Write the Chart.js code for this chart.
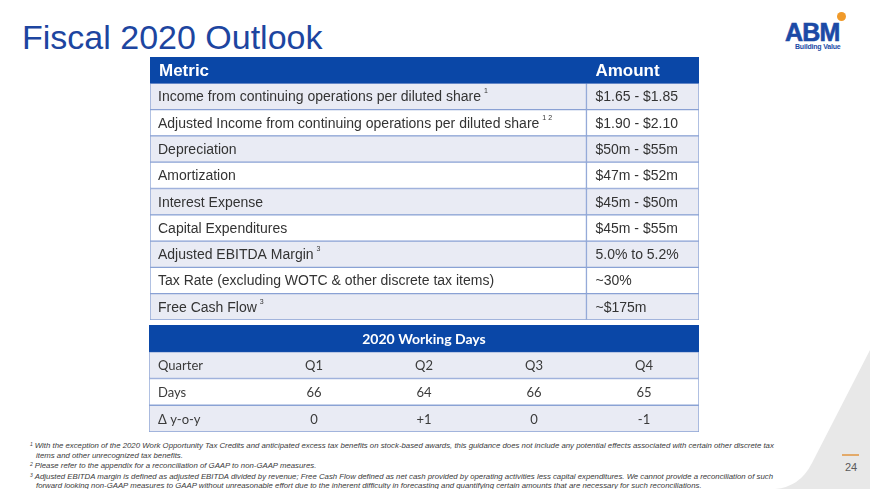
<!DOCTYPE html>
<html>
<head>
<meta charset="utf-8">
<script src="https://cdn.jsdelivr.net/npm/chart.js@4.4.1/dist/chart.umd.min.js"></script>
<style>
  html, body { margin: 0; padding: 0; background: #fff; }
  body { width: 870px; height: 489px; position: relative; overflow: hidden; font-family: "Liberation Sans", Arial, sans-serif; }
  .abs { position: absolute; white-space: nowrap; }
  #title { left: 22px; top: 20px; font-size: 34px; line-height: 34px; color: #1d45a0; }
  #logo { left: 785px; top: 20px; font-size: 25px; line-height: 24px; font-weight: bold; color: #1b4aa6; letter-spacing: -0.8px; -webkit-text-stroke: 0.6px #1b4aa6; }
  #logoDot { left: 837px; top: 12px; width: 9px; height: 9px; border-radius: 50%; background: #f09a2a; }
  #tag { left: 795px; top: 43px; font-size: 7px; line-height: 8px; color: #1b4aa6; font-weight: bold; letter-spacing: -0.2px; }
  #notes { left: 30px; top: 440px; font-size: 7.8px; line-height: 9.5px; font-style: italic; color: #3a3a3a; }
  #notes sup { font-size: 5px; vertical-align: 2px; margin-right: 2px; }
  #notes .ind { padding-left: 6px; }
  #pg { left: 845px; top: 461px; font-size: 11px; line-height: 12px; color: #5a5a5a; }
  #pgLine { left: 842px; top: 454px; width: 17px; height: 2px; background: #e3aa6a; }
  #t1 { left: 150px; top: 57px; width: 549px; height: 263px; }
  #t2 { left: 149px; top: 325px; width: 550px; height: 107px; }
</style>
</head>
<body>
<svg class="abs" style="left:0;top:0" width="870" height="489">
  <path d="M870 350 L812 463 Q800 487 775 489 L870 489 Z" fill="#e8e8e8"/>
</svg>
<div class="abs" id="title">Fiscal 2020 Outlook</div>
<div class="abs" id="logoDot"></div>
<div class="abs" id="logo">ABM</div>
<div class="abs" id="tag">Building Value</div>
<div class="abs" id="t1"><canvas id="outlook"></canvas></div>
<div class="abs" id="t2"><canvas id="days"></canvas></div>
<div class="abs" id="notes">
  <div><sup>1</sup>With the exception of the 2020 Work Opportunity Tax Credits and anticipated excess tax benefits on stock-based awards, this guidance does not include any potential effects associated with certain other discrete tax</div>
  <div class="ind">items and other unrecognized tax benefits.</div>
  <div><sup>2</sup>Please refer to the appendix for a reconciliation of GAAP to non-GAAP measures.</div>
  <div><sup>3</sup>Adjusted EBITDA margin is defined as adjusted EBITDA divided by revenue; Free Cash Flow defined as net cash provided by operating activities less capital expenditures. We cannot provide a reconciliation of such</div>
  <div class="ind">forward looking non-GAAP measures to GAAP without unreasonable effort due to the inherent difficulty in forecasting and quantifying certain amounts that are necessary for such reconciliations.</div>
</div>
<div class="abs" id="pgLine"></div>
<div class="abs" id="pg">24</div>

<script>
// outlook table
const outlookHeaders = ["Metric", "Amount"];
const metrics = [
  "Income from continuing operations per diluted share",
  "Adjusted Income from continuing operations per diluted share",
  "Depreciation",
  "Amortization",
  "Interest Expense",
  "Capital Expenditures",
  "Adjusted EBITDA Margin",
  "Tax Rate (excluding WOTC & other discrete tax items)",
  "Free Cash Flow"
];
const footnoteRefs = ["1", "1 2", "", "", "", "", "3", "", "3"];
const amounts = [
  "$1.65 - $1.85",
  "$1.90 - $2.10",
  "$50m - $55m",
  "$47m - $52m",
  "$45m - $50m",
  "$45m - $55m",
  "5.0% to 5.2%",
  "~30%",
  "~$175m"
];

// working days table
const daysTitle = "2020 Working Days";
const quarters = ["Q1", "Q2", "Q3", "Q4"];
const workingDays = [66, 64, 66, 65];
const yoyChange = [0, 1, 0, -1];

const BLUE = "#0a47a7";
const STRIPE = "#e9ebf4";
const LINE = "#8aa2d4";

function rowFill(ctx) {
  if (ctx.dataIndex === 0) return BLUE;
  return ctx.dataIndex % 2 ? STRIPE : "#ffffff";
}
function rowLine(ctx) {
  return ctx.dataIndex === 0 ? BLUE : LINE;
}

// paint over the seams between cells of the header row
function fillHeader(ctx, first, last) {
  ctx.fillStyle = BLUE;
  ctx.fillRect(first.base, first.y - first.height / 2, last.x - first.base, first.height);
}

const baseOptions = {
  indexAxis: "y",
  responsive: true,
  maintainAspectRatio: false,
  animation: false,
  events: [],
  layout: { padding: 0 },
  plugins: { legend: { display: false }, tooltip: { enabled: false } },
  scales: {
    x: { type: "linear", min: 0, max: 1, stacked: true, display: false },
    y: { type: "category", stacked: true, display: false }
  }
};

// table 1: two columns, widths as fractions of the table
const outlookRows = ["header"].concat(metrics);
const col1 = outlookRows.map(() => 0.795);
const col2 = outlookRows.map(() => 0.205);

new Chart(document.getElementById("outlook"), {
  type: "bar",
  data: {
    labels: outlookRows,
    datasets: [col1, col2].map(d => ({
      data: d,
      backgroundColor: rowFill,
      borderColor: rowLine,
      borderWidth: 1,
      borderSkipped: false,
      barPercentage: 1,
      categoryPercentage: 1
    }))
  },
  options: baseOptions,
  plugins: [{
    id: "outlookText",
    afterDatasetsDraw(chart) {
      const ctx = chart.ctx;
      const a = chart.getDatasetMeta(0).data;
      const b = chart.getDatasetMeta(1).data;
      ctx.save();
      fillHeader(ctx, a[0], b[0]);
      ctx.textBaseline = "middle";
      ctx.textAlign = "left";
      ctx.fillStyle = "#ffffff";
      ctx.font = 'bold 17px "Liberation Sans"';
      ctx.fillText(outlookHeaders[0], a[0].base + 9, a[0].y + 1);
      ctx.fillText(outlookHeaders[1], b[0].base + 9, b[0].y + 1);
      ctx.fillStyle = "#333333";
      metrics.forEach((m, i) => {
        const ra = a[i + 1], rb = b[i + 1];
        ctx.font = '14px "Liberation Sans"';
        ctx.fillText(m, ra.base + 8, ra.y + 1);
        if (footnoteRefs[i]) {
          const w = ctx.measureText(m).width;
          ctx.font = '7px "Liberation Sans"';
          ctx.fillText(footnoteRefs[i], ra.base + 8 + w + 3, ra.y - 5);
          ctx.font = '14px "Liberation Sans"';
        }
        ctx.fillText(amounts[i], rb.base + 9, rb.y + 1);
      });
      ctx.restore();
    }
  }]
});

// table 2: label column + four quarters
const dayRows = [daysTitle, "Quarter", "Days", "\u0394 y-o-y"];
const dayCols = [0, 1, 2, 3, 4].map(() => dayRows.map(() => 0.2));

new Chart(document.getElementById("days"), {
  type: "bar",
  data: {
    labels: dayRows,
    datasets: dayCols.map((d, j) => ({
      data: d,
      backgroundColor: rowFill,
      borderColor: rowLine,
      borderWidth: { top: 1, bottom: 1, left: j === 0 ? 1 : 0, right: j === 4 ? 1 : 0 },
      borderSkipped: false,
      barPercentage: 1,
      categoryPercentage: 1
    }))
  },
  options: baseOptions,
  plugins: [{
    id: "daysText",
    afterDatasetsDraw(chart) {
      const ctx = chart.ctx;
      const cols = [0, 1, 2, 3, 4].map(j => chart.getDatasetMeta(j).data);
      const sign = v => (v > 0 ? "+" + v : String(v));
      const rowValues = [null, quarters, workingDays.map(String), yoyChange.map(sign)];
      ctx.save();
      const first = cols[0][0], last = cols[4][0];
      fillHeader(ctx, first, last);
      ctx.textBaseline = "middle";
      ctx.fillStyle = "#ffffff";
      ctx.font = 'bold 14px "Lato"';
      ctx.textAlign = "center";
      ctx.fillText(daysTitle, (first.base + last.x) / 2, first.y + 1);
      ctx.fillStyle = "#3a3a3a";
      ctx.font = '13px "Lato"';
      for (let i = 1; i < dayRows.length; i++) {
        const lab = cols[0][i];
        ctx.textAlign = "left";
        ctx.fillText(dayRows[i], lab.base + 9, lab.y + 1);
        ctx.textAlign = "center";
        rowValues[i].forEach((v, k) => {
          const el = cols[k + 1][i];
          ctx.fillText(v, (el.base + el.x) / 2, el.y + 1);
        });
      }
      ctx.restore();
    }
  }]
});
</script>
</body>
</html>
